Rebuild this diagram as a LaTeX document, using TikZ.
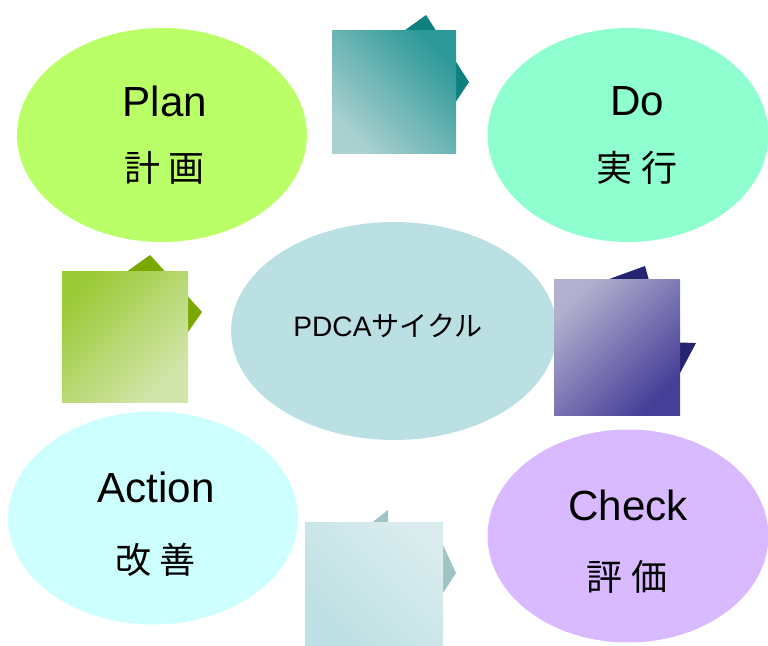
\documentclass[tikz,border=0pt]{standalone}
\usepackage{fontspec}
\setmainfont{Liberation Sans}
\newfontfamily\jafont{Noto Sans CJK JP}
\usetikzlibrary{shapes.geometric}

\definecolor{planfill}{RGB}{187,255,104}
\definecolor{dofill}{RGB}{143,255,208}
\definecolor{cyclefill}{RGB}{186,224,228}
\definecolor{actionfill}{RGB}{206,255,255}
\definecolor{checkfill}{RGB}{217,185,255}

\definecolor{tealdark}{RGB}{14,128,128}
\definecolor{tealtop}{RGB}{44,152,152}
\definecolor{teallow}{RGB}{170,208,208}
\definecolor{olivedark}{RGB}{122,168,0}
\definecolor{greentop}{RGB}{156,202,56}
\definecolor{greenlow}{RGB}{210,230,172}
\definecolor{navydark}{RGB}{36,36,112}
\definecolor{navytop}{RGB}{178,176,206}
\definecolor{navylow}{RGB}{70,62,152}
\definecolor{bluedark}{RGB}{160,196,198}
\definecolor{bluetop}{RGB}{218,236,238}
\definecolor{bluelow}{RGB}{188,224,227}

\tikzset{
  phase/.style={ellipse,inner sep=0pt,minimum width=5.7cm,minimum height=4.28cm},
  entext/.style={font=\fontsize{24}{28}\selectfont},
  jatext/.style={font=\jafont\fontsize{20.5}{24}\selectfont},
}

\begin{document}
\begin{tikzpicture}[x=0.02cm,y=-0.02cm]
  \useasboundingbox (0,0) rectangle (768,646);

  % ellipses
  \node[phase,fill=planfill,minimum width=5.8cm] (plan) at (162,135) {};
  \node[phase,fill=dofill,minimum width=5.62cm] (do) at (628,135) {};
  \node[phase,fill=actionfill,minimum width=5.8cm,minimum height=4.26cm] (action) at (153,518) {};
  \node[phase,fill=checkfill,minimum width=5.62cm,minimum height=4.26cm] (check) at (628,536) {};
  \node[phase,fill=cyclefill,minimum width=6.52cm,minimum height=4.36cm] (cycle) at (394,331) {};

  % arrow heads behind the squares
  \fill[tealdark]  (426,15) -- (469,82) -- (445,118) -- (400,110) -- (390,41) -- cycle;
  \fill[olivedark] (150,255) -- (202,312) -- (172,355) -- (110,330) -- (115,280) -- cycle;
  \fill[navydark]  (645,266) -- (660,320) -- (662,342) -- (696,343) -- (670,392) -- (590,286) -- cycle;
  \fill[bluedark]  (388,510) -- (388,535) -- (436,530) -- (456,573) -- (430,613) -- (350,540) -- cycle;

  % squares
  \shade[top color=tealtop,bottom color=teallow,shading angle=-45] (332,30) rectangle (456,153);
  \shade[top color=greentop,bottom color=greenlow,shading angle=45] (62,271) rectangle (188,402);
  \shade[top color=navytop,bottom color=navylow,shading angle=45] (554,279) rectangle (680,415);
  \shade[top color=bluetop,bottom color=bluelow,shading angle=-45] (305,522) rectangle (443,646);

  % labels
  \node[entext] (plan-en) at (165,101) {Plan};
  \node[jatext] (plan-ja) at (165,168) {計 画};
  \node[entext] (do-en) at (637,101) {Do};
  \node[jatext] (do-ja) at (637,168) {実 行};
  \node[entext] (action-en) at (156,487) {Action};
  \node[jatext] (action-ja) at (156,560) {改 善};
  \node[entext] (check-en) at (628,505) {Check};
  \node[jatext] (check-ja) at (627,577) {評 価};
  \node[font=\fontsize{16}{19}\selectfont] (cycle-label) at (388,326) {PDCA{\jafont サイクル}};
\end{tikzpicture}
\end{document}
